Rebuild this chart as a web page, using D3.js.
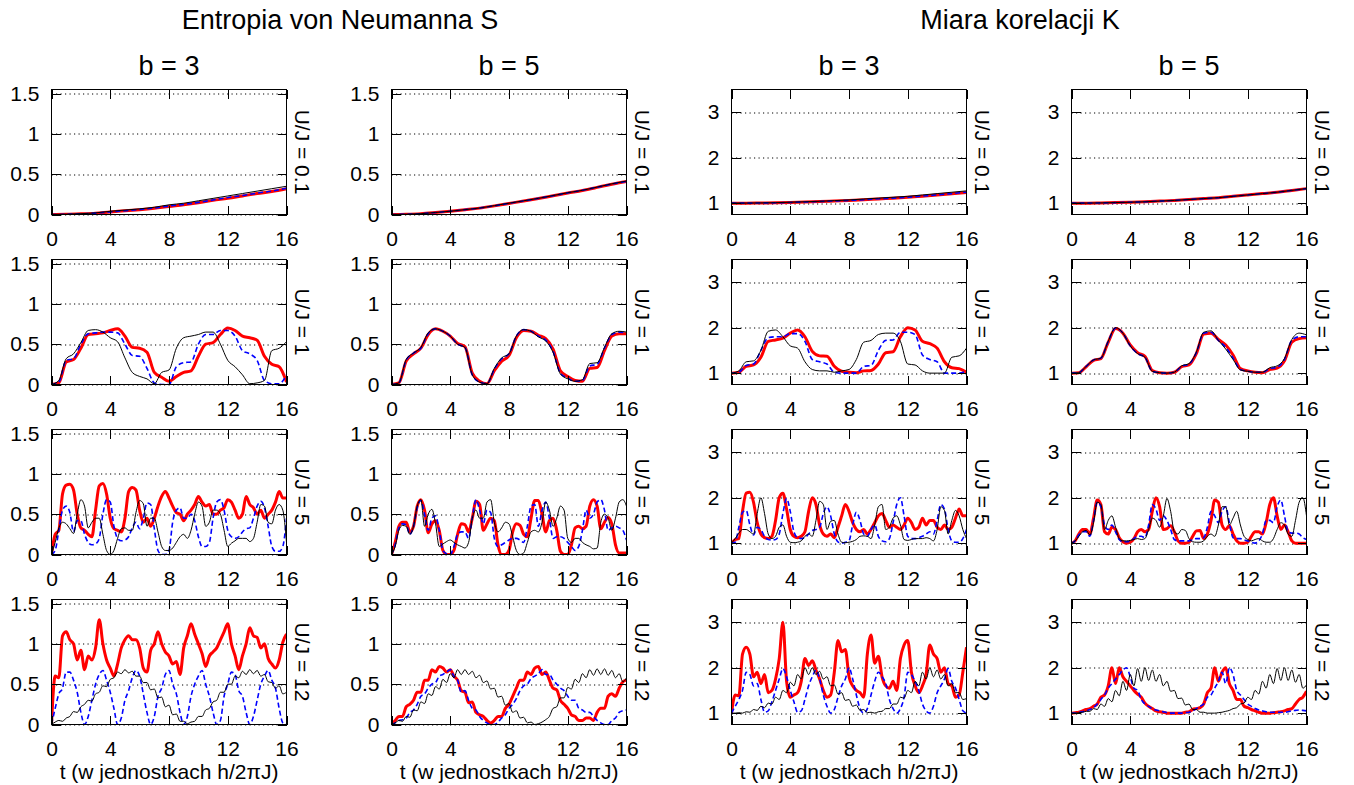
<!DOCTYPE html>
<html>
<head>
<meta charset="utf-8">
<script src="https://cdn.jsdelivr.net/npm/d3@7"></script>
<style>
  body { margin: 0; background: #fff; }
  text { font-family: "Liberation Sans", Arial, Helvetica, sans-serif; fill: #000; }
</style>
</head>
<body>
<svg id="chart" width="1354" height="785"></svg>
<script>
// ---- data (t runs 0..16, points evenly spaced) ----
const xTicks = [0, 4, 8, 12, 16];
const sTicks = [0, 0.5, 1, 1.5];
const kTicks = [1, 2, 3];
const rowLabels = ['U/J = 0.1', 'U/J = 1', 'U/J = 5', 'U/J = 12'];
const colTitles = ['b = 3', 'b = 5', 'b = 3', 'b = 5'];

// U/J = 0.1 (step 1)
const sB3u01Black = [0,0.003,0.01,0.02,0.04,0.055,0.07,0.09,0.12,0.14,0.17,0.2,0.23,0.26,0.29,0.32,0.35];
const sB3u01Blue  = [0,0.002,0.008,0.017,0.033,0.047,0.062,0.08,0.105,0.125,0.15,0.18,0.21,0.235,0.265,0.29,0.325];
const sB3u01Red   = [0,0.002,0.008,0.016,0.032,0.045,0.06,0.078,0.1,0.12,0.145,0.175,0.2,0.23,0.26,0.285,0.32];
const sB5u01Black = [0,0.003,0.01,0.025,0.04,0.06,0.08,0.11,0.14,0.17,0.2,0.235,0.27,0.3,0.34,0.38,0.415];
const sB5u01Blue  = [0,0.003,0.01,0.024,0.04,0.06,0.08,0.108,0.138,0.168,0.2,0.233,0.268,0.3,0.338,0.378,0.41];
const sB5u01Red   = [0,0.003,0.01,0.024,0.04,0.059,0.079,0.107,0.137,0.167,0.198,0.232,0.266,0.298,0.336,0.376,0.41];
const kB3u01Black = [1,1,1.005,1.01,1.02,1.03,1.04,1.055,1.07,1.09,1.11,1.13,1.15,1.18,1.21,1.24,1.27];
const kB3u01Blue  = [1,1,1.004,1.008,1.015,1.025,1.035,1.048,1.06,1.075,1.095,1.11,1.13,1.155,1.18,1.21,1.24];
const kB3u01Red   = [1,1,1.004,1.008,1.015,1.024,1.034,1.046,1.058,1.073,1.092,1.108,1.127,1.152,1.177,1.205,1.235];
const kB5u01Black = [1,1,1.005,1.012,1.02,1.03,1.045,1.06,1.08,1.1,1.12,1.15,1.18,1.21,1.24,1.28,1.32];
const kB5u01Blue  = [1,1,1.005,1.012,1.02,1.03,1.045,1.06,1.08,1.1,1.12,1.15,1.18,1.21,1.24,1.28,1.32];
const kB5u01Red   = [1,1,1.005,1.012,1.02,1.03,1.045,1.06,1.08,1.1,1.12,1.15,1.18,1.21,1.24,1.28,1.32];

// U/J = 1 (step 0.5)
const sB3u1Black = [0,0.05,0.32,0.38,0.52,0.67,0.68,0.65,0.58,0.53,0.33,0.15,0.1,0.07,0.01,0.15,0.18,0.45,0.58,0.6,0.62,0.65,0.65,0.5,0.3,0.22,0.12,0.01,0.02,0.05,0.42,0.45,0.53];
const sB3u1Blue  = [0,0.03,0.3,0.32,0.5,0.63,0.64,0.65,0.65,0.64,0.5,0.36,0.35,0.2,0.02,0,0,0.22,0.27,0.28,0.5,0.62,0.62,0.67,0.67,0.6,0.42,0.38,0.3,0.05,0.01,0.01,0.12];
const sB3u1Red   = [0,0.02,0.28,0.31,0.45,0.62,0.63,0.64,0.67,0.69,0.6,0.46,0.45,0.4,0.15,0.09,0.04,0.1,0.15,0.17,0.35,0.5,0.52,0.62,0.7,0.67,0.6,0.58,0.55,0.35,0.25,0.22,0.03];
const sB5u1Black = [0,0.02,0.31,0.39,0.46,0.64,0.69,0.66,0.6,0.5,0.46,0.12,0.03,0.01,0.2,0.33,0.38,0.6,0.68,0.66,0.59,0.54,0.4,0.13,0.07,0.04,0.06,0.26,0.27,0.46,0.63,0.66,0.65];
const sB5u1Blue  = [0,0.02,0.3,0.39,0.45,0.63,0.69,0.66,0.6,0.5,0.46,0.12,0.03,0.01,0.19,0.32,0.38,0.6,0.68,0.66,0.6,0.55,0.41,0.14,0.08,0.04,0.05,0.23,0.25,0.45,0.62,0.65,0.64];
const sB5u1Red   = [0,0.02,0.29,0.38,0.45,0.62,0.69,0.66,0.6,0.51,0.47,0.14,0.04,0.01,0.17,0.29,0.36,0.58,0.67,0.66,0.61,0.57,0.44,0.17,0.1,0.05,0.04,0.2,0.21,0.42,0.6,0.63,0.63];
const kB3u1Black = [1,1.05,1.25,1.27,1.5,1.92,1.95,1.8,1.6,1.55,1.25,1.08,1.05,1.05,1.02,1.05,1.08,1.3,1.68,1.72,1.85,1.88,1.88,1.7,1.2,1.18,1.05,1,1,1,1.35,1.38,1.55];
const kB3u1Blue  = [1,1.02,1.17,1.2,1.5,1.78,1.8,1.8,1.87,1.87,1.7,1.3,1.25,1.2,1.02,1,1,1,1.15,1.17,1.5,1.72,1.73,1.9,1.9,1.85,1.4,1.3,1.25,1,1,1,1.05];
const kB3u1Red   = [1,1.02,1.15,1.18,1.35,1.7,1.73,1.77,1.88,1.95,1.8,1.48,1.38,1.37,1.15,1.04,1.02,1.01,1.05,1.06,1.2,1.45,1.47,1.8,2.0,1.95,1.7,1.65,1.55,1.25,1.12,1.1,1.02];
const kB5u1Black = [1,1.01,1.15,1.29,1.33,1.7,2.0,1.88,1.6,1.43,1.35,1.04,1.01,1,1.02,1.16,1.21,1.46,1.9,1.93,1.72,1.53,1.3,1.07,1.04,1.02,1.02,1.12,1.16,1.32,1.74,1.88,1.84];
const kB5u1Blue  = [1,1.01,1.15,1.29,1.33,1.7,1.99,1.88,1.6,1.43,1.35,1.04,1.01,1,1.02,1.15,1.2,1.45,1.88,1.9,1.72,1.57,1.33,1.08,1.04,1.02,1.02,1.1,1.13,1.3,1.72,1.8,1.8];
const kB5u1Red   = [1,1.01,1.14,1.28,1.32,1.68,1.98,1.88,1.62,1.45,1.37,1.06,1.01,1,1.02,1.14,1.18,1.43,1.86,1.88,1.74,1.62,1.4,1.1,1.05,1.02,1.01,1.08,1.11,1.27,1.68,1.76,1.78];

// U/J = 5 (step 0.25)
const sB3u5Black = [0,0.15,0.33,0.4,0.38,0.32,0.26,0.5,0.68,0.6,0.33,0.4,0.45,0.45,0.25,0.05,0,0.05,0.2,0.32,0.33,0.3,0.3,0.52,0.67,0.63,0.35,0.45,0.45,0.28,0.1,0.05,0.05,0.08,0.15,0.22,0.25,0.2,0.3,0.5,0.65,0.6,0.35,0.4,0.55,0.55,0.5,0.3,0.1,0.14,0.17,0.2,0.2,0.2,0.16,0.2,0.4,0.62,0.6,0.4,0.38,0.55,0.62,0.55,0.15];
const sB3u5Blue  = [0,0.05,0.3,0.55,0.6,0.52,0.28,0.42,0.42,0.25,0.15,0.12,0.13,0.2,0.5,0.68,0.65,0.35,0.2,0.17,0.18,0.22,0.33,0.4,0.32,0.45,0.64,0.62,0.32,0.05,0,0,0.05,0.4,0.55,0.58,0.45,0.45,0.5,0.42,0.22,0.1,0.1,0.15,0.45,0.65,0.68,0.55,0.3,0.22,0.2,0.22,0.28,0.32,0.33,0.45,0.6,0.66,0.58,0.35,0.1,0.04,0.04,0.1,0.45];
const sB3u5Red   = [0,0.25,0.3,0.75,0.86,0.87,0.8,0.5,0.33,0.3,0.25,0.22,0.55,0.85,0.88,0.75,0.45,0.32,0.3,0.28,0.45,0.78,0.83,0.8,0.55,0.4,0.45,0.35,0.45,0.6,0.72,0.78,0.7,0.6,0.52,0.5,0.42,0.5,0.55,0.62,0.72,0.65,0.6,0.62,0.5,0.5,0.55,0.58,0.68,0.65,0.55,0.45,0.5,0.72,0.62,0.58,0.5,0.55,0.45,0.5,0.55,0.65,0.78,0.7,0.7];
const sB5u5Black = [0,0.1,0.3,0.36,0.35,0.25,0.35,0.6,0.68,0.35,0.5,0.56,0.38,0.1,0.13,0.16,0.18,0.15,0.12,0.1,0.08,0.15,0.45,0.55,0.45,0.45,0.65,0.68,0.4,0.28,0.33,0.4,0.38,0.22,0.05,0,0.02,0.15,0.28,0.3,0.28,0.4,0.65,0.55,0.35,0.45,0.6,0.55,0.2,0.15,0.2,0.2,0.15,0.12,0.1,0.07,0.08,0.4,0.5,0.45,0.3,0.45,0.65,0.68,0.6];
const sB5u5Blue  = [0,0.12,0.33,0.38,0.37,0.25,0.35,0.58,0.67,0.5,0.3,0.45,0.48,0.3,0.05,0.01,0,0.1,0.25,0.28,0.28,0.2,0.45,0.68,0.55,0.38,0.55,0.52,0.2,0.1,0.12,0.15,0.18,0.2,0.2,0.18,0.15,0.35,0.6,0.62,0.35,0.55,0.65,0.45,0.2,0.22,0.22,0.2,0.15,0.1,0.05,0.1,0.3,0.55,0.45,0.5,0.65,0.68,0.55,0.3,0.33,0.35,0.33,0.3,0.18];
const sB5u5Red   = [0,0.15,0.35,0.4,0.4,0.28,0.35,0.6,0.68,0.55,0.27,0.38,0.42,0.3,0.05,0,0,0.05,0.25,0.38,0.37,0.28,0.45,0.66,0.62,0.3,0.38,0.45,0.42,0.12,0,0,0.05,0.28,0.38,0.36,0.25,0.22,0.45,0.67,0.67,0.5,0.28,0.42,0.45,0.3,0.04,0,0,0.12,0.33,0.35,0.32,0.35,0.6,0.68,0.6,0.32,0.4,0.46,0.38,0.12,0.02,0.02,0.02];
const kB3u5Black = [1,1.1,1.22,1.3,1.3,1.25,1.2,1.65,2.0,1.65,1.2,1.1,1.15,1.35,1.4,1.15,1.02,1.01,1.02,1.05,1.15,1.2,1.15,1.5,1.92,1.85,1.3,1.48,1.5,1.2,1.02,1.01,1.02,1.04,1.08,1.15,1.16,1.15,1.1,1.4,1.8,1.85,1.3,1.35,1.55,1.6,1.4,1.08,1.06,1.08,1.1,1.1,1.1,1.12,1.1,1.05,1.3,1.8,1.72,1.2,1.5,1.72,1.6,1.3,1.1];
const kB3u5Blue  = [1,1.02,1.35,1.68,1.72,1.4,1.18,1.35,1.3,1.15,1.08,1.07,1.08,1.2,1.65,1.98,1.7,1.25,1.12,1.1,1.12,1.2,1.28,1.3,1.35,1.65,1.8,1.6,1.2,1.03,1,1.02,1.05,1.4,1.68,1.5,1.2,1.15,1.3,1.4,1.15,1.05,1.03,1.1,1.45,1.85,2.0,1.6,1.15,1.1,1.1,1.12,1.15,1.2,1.25,1.2,1.5,1.85,1.75,1.3,1.05,1.02,1.02,1.1,1.3];
const kB3u5Red   = [1,1.08,1.1,1.7,2.1,2.12,1.9,1.45,1.2,1.12,1.1,1.15,1.5,2.0,2.1,1.75,1.3,1.15,1.12,1.15,1.25,1.7,2.0,1.85,1.4,1.2,1.15,1.2,1.12,1.35,1.6,1.85,1.7,1.45,1.3,1.25,1.3,1.2,1.3,1.45,1.6,1.65,1.5,1.35,1.4,1.35,1.3,1.4,1.55,1.45,1.3,1.35,1.55,1.4,1.5,1.5,1.35,1.3,1.4,1.3,1.35,1.55,1.75,1.6,1.6];
const kB5u5Black = [1,1.05,1.15,1.25,1.28,1.18,1.45,1.9,1.85,1.3,1.5,1.6,1.35,1.1,1.05,1.05,1.06,1.08,1.1,1.08,1.1,1.3,1.55,1.5,1.35,1.6,1.98,1.7,1.25,1.2,1.3,1.28,1.1,1.03,1.02,1.02,1.05,1.15,1.2,1.15,1.4,1.8,1.8,1.4,1.55,1.7,1.4,1.15,1.08,1.05,1.08,1.1,1.05,1.02,1.02,1.1,1.3,1.45,1.4,1.2,1.15,1.5,1.9,2.0,1.6];
const kB5u5Blue  = [1,1.05,1.18,1.25,1.25,1.15,1.5,1.9,1.8,1.4,1.3,1.4,1.25,1.08,1.03,1.03,1.05,1.1,1.15,1.15,1.12,1.4,1.85,1.75,1.5,1.6,1.5,1.3,1.08,1.05,1.05,1.05,1.05,1.08,1.1,1.1,1.12,1.35,1.7,1.6,1.45,1.7,1.8,1.45,1.12,1.1,1.1,1.07,1.05,1.02,1,1.05,1.2,1.5,1.5,1.45,1.8,1.95,1.6,1.25,1.22,1.22,1.2,1.12,1.08];
const kB5u5Red   = [1,1.05,1.2,1.3,1.3,1.2,1.55,1.95,1.85,1.25,1.2,1.35,1.3,1.12,1.03,1,1.02,1.1,1.25,1.3,1.25,1.3,1.7,2.0,1.8,1.3,1.32,1.38,1.25,1.05,1,1,1.02,1.15,1.27,1.28,1.1,1.2,1.5,1.95,1.9,1.4,1.3,1.38,1.2,1.05,1,1,1.02,1.15,1.25,1.25,1.2,1.45,1.85,2.0,1.6,1.3,1.4,1.25,1.05,1,1,1,1];

// U/J = 12 (step 0.25)
const sB3u12Black = [0,0.03,0.05,0.04,0.08,0.1,0.16,0.15,0.22,0.25,0.3,0.29,0.38,0.4,0.48,0.47,0.56,0.58,0.65,0.63,0.68,0.64,0.66,0.6,0.6,0.52,0.52,0.43,0.44,0.33,0.34,0.22,0.24,0.12,0.13,0.04,0.04,0.01,0.03,0.04,0.1,0.1,0.18,0.2,0.28,0.3,0.4,0.4,0.5,0.5,0.6,0.58,0.66,0.62,0.68,0.63,0.67,0.6,0.62,0.53,0.52,0.45,0.48,0.38,0.4];
const sB3u12Blue  = [0,0.2,0.38,0.45,0.65,0.65,0.55,0.4,0.15,0,0.1,0.3,0.5,0.62,0.67,0.55,0.4,0.2,0,0.08,0.3,0.42,0.58,0.67,0.6,0.38,0.15,0,0.1,0.35,0.45,0.62,0.67,0.5,0.38,0.15,0,0.1,0.35,0.5,0.6,0.67,0.5,0.35,0.15,0,0.05,0.35,0.5,0.65,0.62,0.42,0.35,0.15,0,0.1,0.3,0.5,0.6,0.67,0.55,0.45,0.2,0.02,0];
const sB3u12Red   = [0,0.6,0.58,1.1,1.15,1.05,1.0,0.8,0.92,0.68,0.85,0.8,0.95,1.3,1.0,0.8,0.7,0.6,0.75,0.95,1.05,1.1,1.05,1.05,0.95,0.7,0.65,0.92,1.0,1.15,1.0,0.9,0.85,0.75,0.78,0.62,0.95,1.1,1.25,1.12,1.0,0.88,0.72,0.85,0.9,0.95,1.05,1.15,1.25,1.0,0.85,0.68,0.85,1.0,1.2,1.1,1.08,0.95,1.0,0.82,0.75,0.7,0.8,1.02,1.12];
const sB5u12Black = [0,0.02,0.05,0.04,0.1,0.09,0.18,0.17,0.28,0.26,0.38,0.36,0.47,0.44,0.56,0.52,0.63,0.58,0.68,0.62,0.68,0.62,0.66,0.58,0.61,0.52,0.54,0.44,0.45,0.34,0.35,0.24,0.26,0.15,0.17,0.08,0.09,0.02,0.03,0,0.01,0.03,0.06,0.1,0.2,0.22,0.33,0.33,0.46,0.44,0.56,0.52,0.63,0.58,0.68,0.61,0.69,0.62,0.69,0.61,0.67,0.58,0.63,0.53,0.58];
const sB5u12Blue  = [0,0.02,0.05,0.06,0.08,0.15,0.18,0.25,0.35,0.38,0.45,0.5,0.52,0.6,0.62,0.65,0.68,0.6,0.55,0.4,0.42,0.3,0.2,0.18,0.1,0.05,0.02,0,0,0.03,0.08,0.12,0.2,0.25,0.32,0.42,0.48,0.5,0.57,0.6,0.63,0.68,0.62,0.62,0.55,0.5,0.45,0.42,0.35,0.3,0.3,0.2,0.18,0.15,0.15,0.1,0.05,0.02,0,0,0.05,0.08,0.15,0.17,0.18];
const sB5u12Red   = [0,0.05,0.1,0.1,0.22,0.25,0.3,0.4,0.4,0.55,0.55,0.68,0.65,0.72,0.7,0.65,0.68,0.6,0.55,0.42,0.4,0.27,0.28,0.15,0.12,0.1,0.05,0.02,0.05,0.1,0.1,0.2,0.25,0.35,0.45,0.55,0.55,0.65,0.62,0.7,0.72,0.62,0.65,0.55,0.45,0.43,0.3,0.25,0.2,0.12,0.1,0.05,0.05,0.08,0.08,0.05,0.15,0.2,0.2,0.35,0.38,0.35,0.45,0.53,0.55];
const kB3u12Black = [1,1,1.01,1,1.03,1.02,1.08,1.06,1.15,1.12,1.22,1.2,1.35,1.3,1.5,1.45,1.68,1.6,1.85,1.75,2.0,1.85,2.0,1.85,1.92,1.75,1.8,1.6,1.62,1.42,1.45,1.28,1.3,1.15,1.18,1.06,1.08,1.01,1.02,1,1.03,1.04,1.1,1.1,1.2,1.2,1.35,1.33,1.5,1.45,1.7,1.6,1.9,1.75,2.0,1.8,1.95,1.75,1.85,1.6,1.65,1.45,1.45,1.3,1.32];
const kB3u12Blue  = [1,1.15,1.3,1.5,1.9,1.85,1.6,1.65,1.3,1.02,1.05,1.25,1.5,1.75,1.98,1.8,1.5,1.25,1.02,1.05,1.3,1.6,1.8,1.95,1.75,1.4,1.15,1,1.08,1.35,1.6,1.75,2.0,1.75,1.4,1.1,1,1.1,1.4,1.7,1.9,1.8,1.65,1.3,1.1,1,1.1,1.35,1.9,1.85,1.7,1.5,1.2,1.05,1,1.15,1.45,1.6,1.75,1.98,1.7,1.55,1.3,1.05,1];
const kB3u12Red   = [1,1.4,1.38,2.3,2.45,2.3,1.8,1.9,1.65,1.85,1.45,1.5,1.75,2.2,3.0,1.7,1.35,1.4,1.45,1.7,2.2,2.05,2.15,1.95,1.75,1.5,1.35,1.4,1.9,2.6,2.35,2.4,1.8,1.6,1.5,1.45,1.35,2.3,2.72,2.1,2.25,1.8,1.6,1.55,1.7,1.5,2.2,2.5,2.6,1.9,1.6,1.45,1.6,1.85,2.5,2.3,2.2,1.9,2.0,1.65,1.6,1.35,1.4,1.9,2.45];
const kB5u12Black = [1,1,1.01,1.02,1.04,1.04,1.1,1.08,1.2,1.15,1.32,1.25,1.5,1.38,1.7,1.5,1.85,1.6,1.98,1.7,2.0,1.72,1.95,1.7,1.85,1.6,1.7,1.48,1.5,1.32,1.33,1.18,1.2,1.08,1.08,1.02,1.02,1,1,1,1.01,1.02,1.04,1.06,1.1,1.12,1.2,1.22,1.35,1.3,1.5,1.42,1.7,1.55,1.85,1.65,1.98,1.72,2.0,1.72,1.95,1.68,1.85,1.55,1.62];
const kB5u12Blue  = [1,1,1.02,1.03,1.05,1.08,1.12,1.2,1.3,1.4,1.55,1.65,1.75,1.85,1.95,2.0,1.8,1.55,1.5,1.3,1.2,1.15,1.1,1.07,1.05,1.03,1.01,1,1,1,1,1.01,1.02,1.05,1.1,1.15,1.2,1.35,1.4,1.55,1.7,1.9,1.65,2.0,1.85,1.5,1.4,1.3,1.2,1.15,1.1,1.07,1.05,1.03,1.02,1.02,1.02,1.02,1.02,1.03,1.05,1.06,1.07,1.06,1.05];
const kB5u12Red   = [1,1.01,1.02,1.05,1.08,1.1,1.15,1.2,1.35,1.4,1.6,2.0,1.65,2.0,1.8,1.7,1.6,1.5,1.42,1.35,1.22,1.15,1.1,1.05,1.03,1.02,1,1,1,1,1,1.02,1.03,1.08,1.1,1.12,1.2,1.45,1.55,2.0,1.7,1.9,2.0,1.65,1.5,1.3,1.3,1.15,1.12,1.08,1.05,1.02,1,1,1,1.01,1.02,1.03,1.05,1.08,1.1,1.2,1.3,1.35,1.48];

const panels = [
  { col: 0, row: 0, kind: 'S', black: sB3u01Black, blue: sB3u01Blue, red: sB3u01Red },
  { col: 1, row: 0, kind: 'S', black: sB5u01Black, blue: sB5u01Blue, red: sB5u01Red },
  { col: 2, row: 0, kind: 'K', black: kB3u01Black, blue: kB3u01Blue, red: kB3u01Red },
  { col: 3, row: 0, kind: 'K', black: kB5u01Black, blue: kB5u01Blue, red: kB5u01Red },
  { col: 0, row: 1, kind: 'S', black: sB3u1Black, blue: sB3u1Blue, red: sB3u1Red },
  { col: 1, row: 1, kind: 'S', black: sB5u1Black, blue: sB5u1Blue, red: sB5u1Red },
  { col: 2, row: 1, kind: 'K', black: kB3u1Black, blue: kB3u1Blue, red: kB3u1Red },
  { col: 3, row: 1, kind: 'K', black: kB5u1Black, blue: kB5u1Blue, red: kB5u1Red },
  { col: 0, row: 2, kind: 'S', black: sB3u5Black, blue: sB3u5Blue, red: sB3u5Red },
  { col: 1, row: 2, kind: 'S', black: sB5u5Black, blue: sB5u5Blue, red: sB5u5Red },
  { col: 2, row: 2, kind: 'K', black: kB3u5Black, blue: kB3u5Blue, red: kB3u5Red },
  { col: 3, row: 2, kind: 'K', black: kB5u5Black, blue: kB5u5Blue, red: kB5u5Red },
  { col: 0, row: 3, kind: 'S', black: sB3u12Black, blue: sB3u12Blue, red: sB3u12Red },
  { col: 1, row: 3, kind: 'S', black: sB5u12Black, blue: sB5u12Blue, red: sB5u12Red },
  { col: 2, row: 3, kind: 'K', black: kB3u12Black, blue: kB3u12Blue, red: kB3u12Red },
  { col: 3, row: 3, kind: 'K', black: kB5u12Black, blue: kB5u12Blue, red: kB5u12Red }
];

// ---- layout ----
const svg = d3.select('#chart');
const colLeft = [51.5, 391.5, 731.5, 1071.5];
const rowTop = [89.5, 259.5, 429.5, 599.5];
const W = 235, H = 125;
const tickLen = 9;

// turn an evenly spaced series into [t, value] pairs
function toPoints(values) {
  const step = 16 / (values.length - 1);
  return values.map((v, i) => [i * step, v]);
}

// headers
svg.append('text').attr('x', 340).attr('y', 29).attr('text-anchor', 'middle')
  .style('font-size', '27px').text('Entropia von Neumanna S');
svg.append('text').attr('x', 1020).attr('y', 29).attr('text-anchor', 'middle')
  .style('font-size', '27px').text('Miara korelacji K');
colTitles.forEach((t, i) => {
  svg.append('text').attr('x', colLeft[i] + W / 2).attr('y', 75).attr('text-anchor', 'middle')
    .style('font-size', '27px').text(t);
});

panels.forEach((p, idx) => {
  const g = svg.append('g').attr('transform', `translate(${colLeft[p.col]},${rowTop[p.row]})`);
  const x = d3.scaleLinear().domain([0, 16]).range([0, W]);
  const y = d3.scaleLinear().domain(p.kind === 'S' ? [0, 1.55] : [0.75, 3.5]).range([H, 0]);
  const yTicks = p.kind === 'S' ? sTicks : kTicks;

  // dotted grid
  g.selectAll('line.grid').data(yTicks).join('line')
    .attr('class', 'grid')
    .attr('x1', 0).attr('x2', W)
    .attr('y1', d => Math.round(y(d)) + 0.5).attr('y2', d => Math.round(y(d)) + 0.5)
    .attr('stroke', '#000').attr('stroke-width', 1)
    .attr('stroke-dasharray', '1.2,3.3');

  // series, clipped to the frame
  const clipId = 'clip' + idx;
  g.append('clipPath').attr('id', clipId)
    .append('rect').attr('x', 0).attr('y', 0).attr('width', W).attr('height', H);
  const line = d3.line().x(d => x(d[0])).y(d => y(d[1])).curve(d3.curveMonotoneX);
  const lines = g.append('g').attr('clip-path', `url(#${clipId})`);
  lines.append('path').attr('d', line(toPoints(p.red)))
    .attr('fill', 'none').attr('stroke', '#ff0000').attr('stroke-width', 3)
    .attr('stroke-linejoin', 'round');
  lines.append('path').attr('d', line(toPoints(p.blue)))
    .attr('fill', 'none').attr('stroke', '#0000ff').attr('stroke-width', 1.6)
    .attr('stroke-dasharray', '5,3');
  lines.append('path').attr('d', line(toPoints(p.black)))
    .attr('fill', 'none').attr('stroke', '#000').attr('stroke-width', 1);

  // axes with inward ticks (gnuplot style)
  const fmt = d => String(d);
  const bottom = g.append('g').attr('transform', `translate(0,${H})`)
    .call(d3.axisBottom(x).tickValues(xTicks).tickSizeInner(-tickLen).tickSizeOuter(0).tickPadding(17).tickFormat(fmt));
  const top = g.append('g')
    .call(d3.axisTop(x).tickValues(xTicks).tickSizeInner(-tickLen).tickSizeOuter(0).tickFormat(''));
  const left = g.append('g')
    .call(d3.axisLeft(y).tickValues(yTicks).tickSizeInner(-tickLen).tickSizeOuter(0).tickPadding(12).tickFormat(fmt));
  const right = g.append('g').attr('transform', `translate(${W},0)`)
    .call(d3.axisRight(y).tickValues(yTicks).tickSizeInner(-tickLen).tickSizeOuter(0).tickFormat(''));
  [bottom, top, left, right].forEach(a => {
    a.select('.domain').remove();
    a.selectAll('line').attr('stroke', '#000').attr('shape-rendering', 'crispEdges');
    a.selectAll('text').style('font-size', '21px').attr('fill', '#000');
  });

  // frame
  g.append('rect').attr('x', 0).attr('y', 0).attr('width', W).attr('height', H)
    .attr('fill', 'none').attr('stroke', '#000').attr('stroke-width', 1);

  // row label on the right
  g.append('text')
    .attr('transform', `translate(${W + 16},${H / 2}) rotate(90)`)
    .attr('text-anchor', 'middle').attr('dominant-baseline', 'central')
    .style('font-size', '21px').text(rowLabels[p.row]);

  // x label under bottom row
  if (p.row === 3) {
    g.append('text').attr('x', W / 2).attr('y', H + 54).attr('text-anchor', 'middle')
      .style('font-size', '21px').text('t (w jednostkach h/2πJ)');
  }
});
</script>
</body>
</html>
